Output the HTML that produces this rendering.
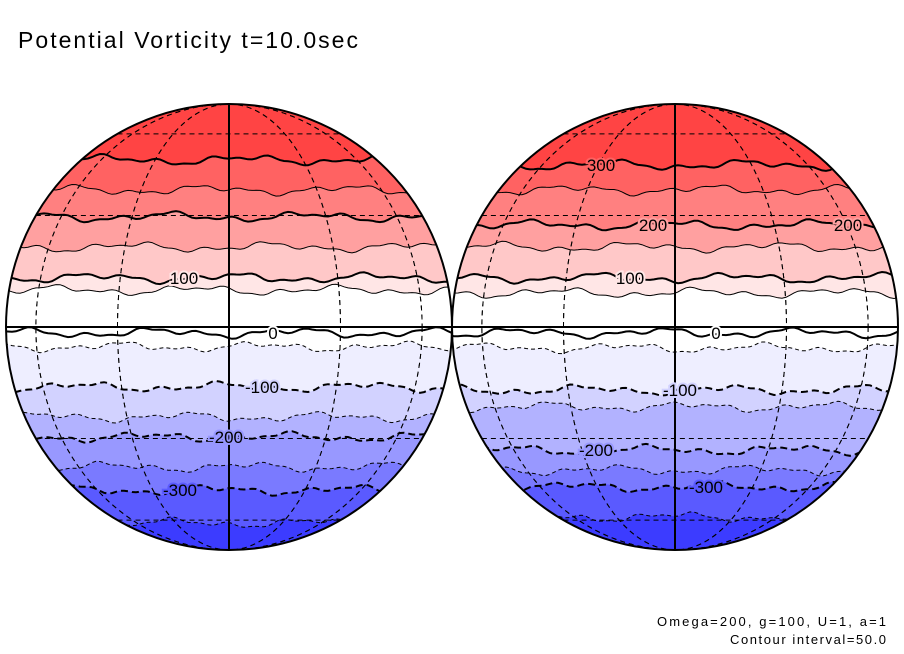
<!DOCTYPE html>
<html><head><meta charset="utf-8"><style>
body{margin:0;background:#fff;}
svg{display:block;font-family:"Liberation Sans",sans-serif;}
</style></head><body>
<svg id="chart" width="904" height="654" viewBox="0 0 904 654" xmlns="http://www.w3.org/2000/svg">
<rect width="904" height="654" fill="#fff"/>
<text x="18" y="48" font-size="23" textLength="340" lengthAdjust="spacing" fill="#000">Potential Vorticity t=10.0sec</text>
<text x="657" y="626" font-size="13" textLength="229" lengthAdjust="spacing" fill="#000">Omega=200, g=100, U=1, a=1</text>
<text x="730" y="644" font-size="13" textLength="156" lengthAdjust="spacing" fill="#000">Contour interval=50.0</text>
<defs>
<clipPath id="clipL"><circle cx="229" cy="327" r="223"/></clipPath>
<clipPath id="clipR"><circle cx="675" cy="327" r="223"/></clipPath>
</defs>
<g id="globeL"></g>
<g id="globeR"></g>
</svg>
<script>
// contour levels (PV) and the latitude (deg) at which each contour sits
const levels = [300, 250, 200, 150, 100, 50, 0, -50, -100, -150, -200, -250, -300, -350];
const latsLeft = [48.5, 37.9, 29.6, 21, 12.7, 9.5, -1.5, -5.1, -15.6, -23.8, -29.6, -38.9, -47, -61.5];
const latsRight = [46.6, 37.9, 27.2, 21, 12.7, 8.8, -1.5, -5.4, -16.4, -21, -33.5, -39.9, -45.8, -58.4];
// band fill colors: above top level, then below each level
const bandColors = ["#ff4444", "#ff6262", "#ff8080", "#ffa0a0", "#ffc8c8", "#ffe6e6", "#ffffff", "#ffffff", "#eeeeff", "#d2d2ff", "#b2b2ff", "#9898ff", "#7a7aff", "#5a5aff", "#3c3cff"];
// contour labels: [text, level index]
const labelsLeft = [["100", 4, -45], ["0", 6, 44], ["-100", 8, 33], ["-200", 10, -3], ["-300", 12, -49]];
const labelsRight = [["300", 0, -74], ["200", 2, -22], ["200", 2, 173], ["100", 4, -45], ["0", 6, 41], ["-100", 8, 5], ["-200", 10, -79], ["-300", 12, 31]];

const NS = "http://www.w3.org/2000/svg";
const R = 223, CY = 327;
function yOf(lat){ return CY - R*Math.sin(lat*Math.PI/180); }
function wig(x, i, seed){ return 3*Math.sin(x*0.045+i*1.7+seed)+2*Math.sin(x*0.11+i*2.3+seed*2)+1.2*Math.sin(x*0.23+i*0.7); }

function drawGlobe(gid, clip, cx, lats, labels, seed){
  const g = document.getElementById(gid);
  const inner = document.createElementNS(NS,"g");
  inner.setAttribute("clip-path","url(#"+clip+")");
  g.appendChild(inner);
  const bg = document.createElementNS(NS,"rect");
  
  
  bg.setAttribute("x",cx-R);bg.setAttribute("y",CY-R);bg.setAttribute("width",2*R);bg.setAttribute("height",2*R);
  bg.setAttribute("fill",bandColors[0]);
  inner.appendChild(bg);
  const lines=[];
  levels.forEach((lv,i)=>{
    const pts=[];
    for(let x=cx-R-2;x<=cx+R+2;x+=4){ pts.push([x, yOf(lats[i])+wig(x,i,seed)]); }
    lines.push(pts);
    const poly=document.createElementNS(NS,"path");
    
    
    let d="M"+pts.map(p=>p[0].toFixed(1)+","+p[1].toFixed(1)).join(" L");
    d+=" L"+(cx+R+2)+","+(CY+R+2)+" L"+(cx-R-2)+","+(CY+R+2)+" Z";
    poly.setAttribute("d",d); poly.setAttribute("fill",bandColors[i+1]);
    inner.appendChild(poly);
  });
  // graticule
  [30,60,-30,-60].forEach(lat=>{
    const y=yOf(lat), hw=R*Math.cos(lat*Math.PI/180);
    const l=document.createElementNS(NS,"line");
    
    
    l.setAttribute("x1",cx-hw);l.setAttribute("x2",cx+hw);l.setAttribute("y1",y);l.setAttribute("y2",y);
    l.setAttribute("stroke","#000");l.setAttribute("stroke-width","1");l.setAttribute("stroke-dasharray","5,4");
    inner.appendChild(l);
  });
  [30,60,-30,-60].forEach(dl=>{
    const e=document.createElementNS(NS,"ellipse");
    
    
    e.setAttribute("cx",cx);e.setAttribute("cy",CY);e.setAttribute("rx",Math.abs(R*Math.sin(dl*Math.PI/180)));e.setAttribute("ry",R);
    e.setAttribute("fill","none");e.setAttribute("stroke","#000");e.setAttribute("stroke-width","1");e.setAttribute("stroke-dasharray","5,4");
    inner.appendChild(e);
  });
  // contour lines
  levels.forEach((lv,i)=>{
    const p=document.createElementNS(NS,"polyline");
    
    
    p.setAttribute("points",lines[i].map(q=>q[0].toFixed(1)+","+q[1].toFixed(1)).join(" "));
    p.setAttribute("fill","none");p.setAttribute("stroke","#000");
    p.setAttribute("stroke-width", (lv%100===0)?"2":"1");
    if(lv<0) p.setAttribute("stroke-dasharray",(lv%100===0)?"7,4":"4,3");
    inner.appendChild(p);
  });
  // axes: equator + central meridian
  const eq=document.createElementNS(NS,"line");
  
  
  eq.setAttribute("x1",cx-R);eq.setAttribute("x2",cx+R);eq.setAttribute("y1",CY);eq.setAttribute("y2",CY);
  eq.setAttribute("stroke","#000");eq.setAttribute("stroke-width","2");
  g.appendChild(eq);
  const cm=document.createElementNS(NS,"line");
  
  
  cm.setAttribute("x1",cx);cm.setAttribute("x2",cx);cm.setAttribute("y1",CY-R);cm.setAttribute("y2",CY+R);
  cm.setAttribute("stroke","#000");cm.setAttribute("stroke-width","2");
  g.appendChild(cm);
  const c=document.createElementNS(NS,"circle");
  
  
  c.setAttribute("cx",cx);c.setAttribute("cy",CY);c.setAttribute("r",R);
  c.setAttribute("fill","none");c.setAttribute("stroke","#000");c.setAttribute("stroke-width","2");
  g.appendChild(c);
  // labels
  labels.forEach(lb=>{
    const x=cx+lb[2], y=yOf(lats[lb[1]]);
    const t=document.createElementNS(NS,"text");
    
    
    t.setAttribute("x",x);t.setAttribute("y",y+6);t.setAttribute("text-anchor","middle");
    t.setAttribute("font-size","17");t.setAttribute("fill","#000");
    t.setAttribute("paint-order","stroke");t.setAttribute("stroke",bandColors[lb[1]+1]);t.setAttribute("stroke-width","4");
    t.textContent=lb[0];
    g.appendChild(t);
  });
}
drawGlobe("globeL","clipL",229,latsLeft,labelsLeft,0);
drawGlobe("globeR","clipR",675,latsRight,labelsRight,2.5);
</script>
</body></html>
